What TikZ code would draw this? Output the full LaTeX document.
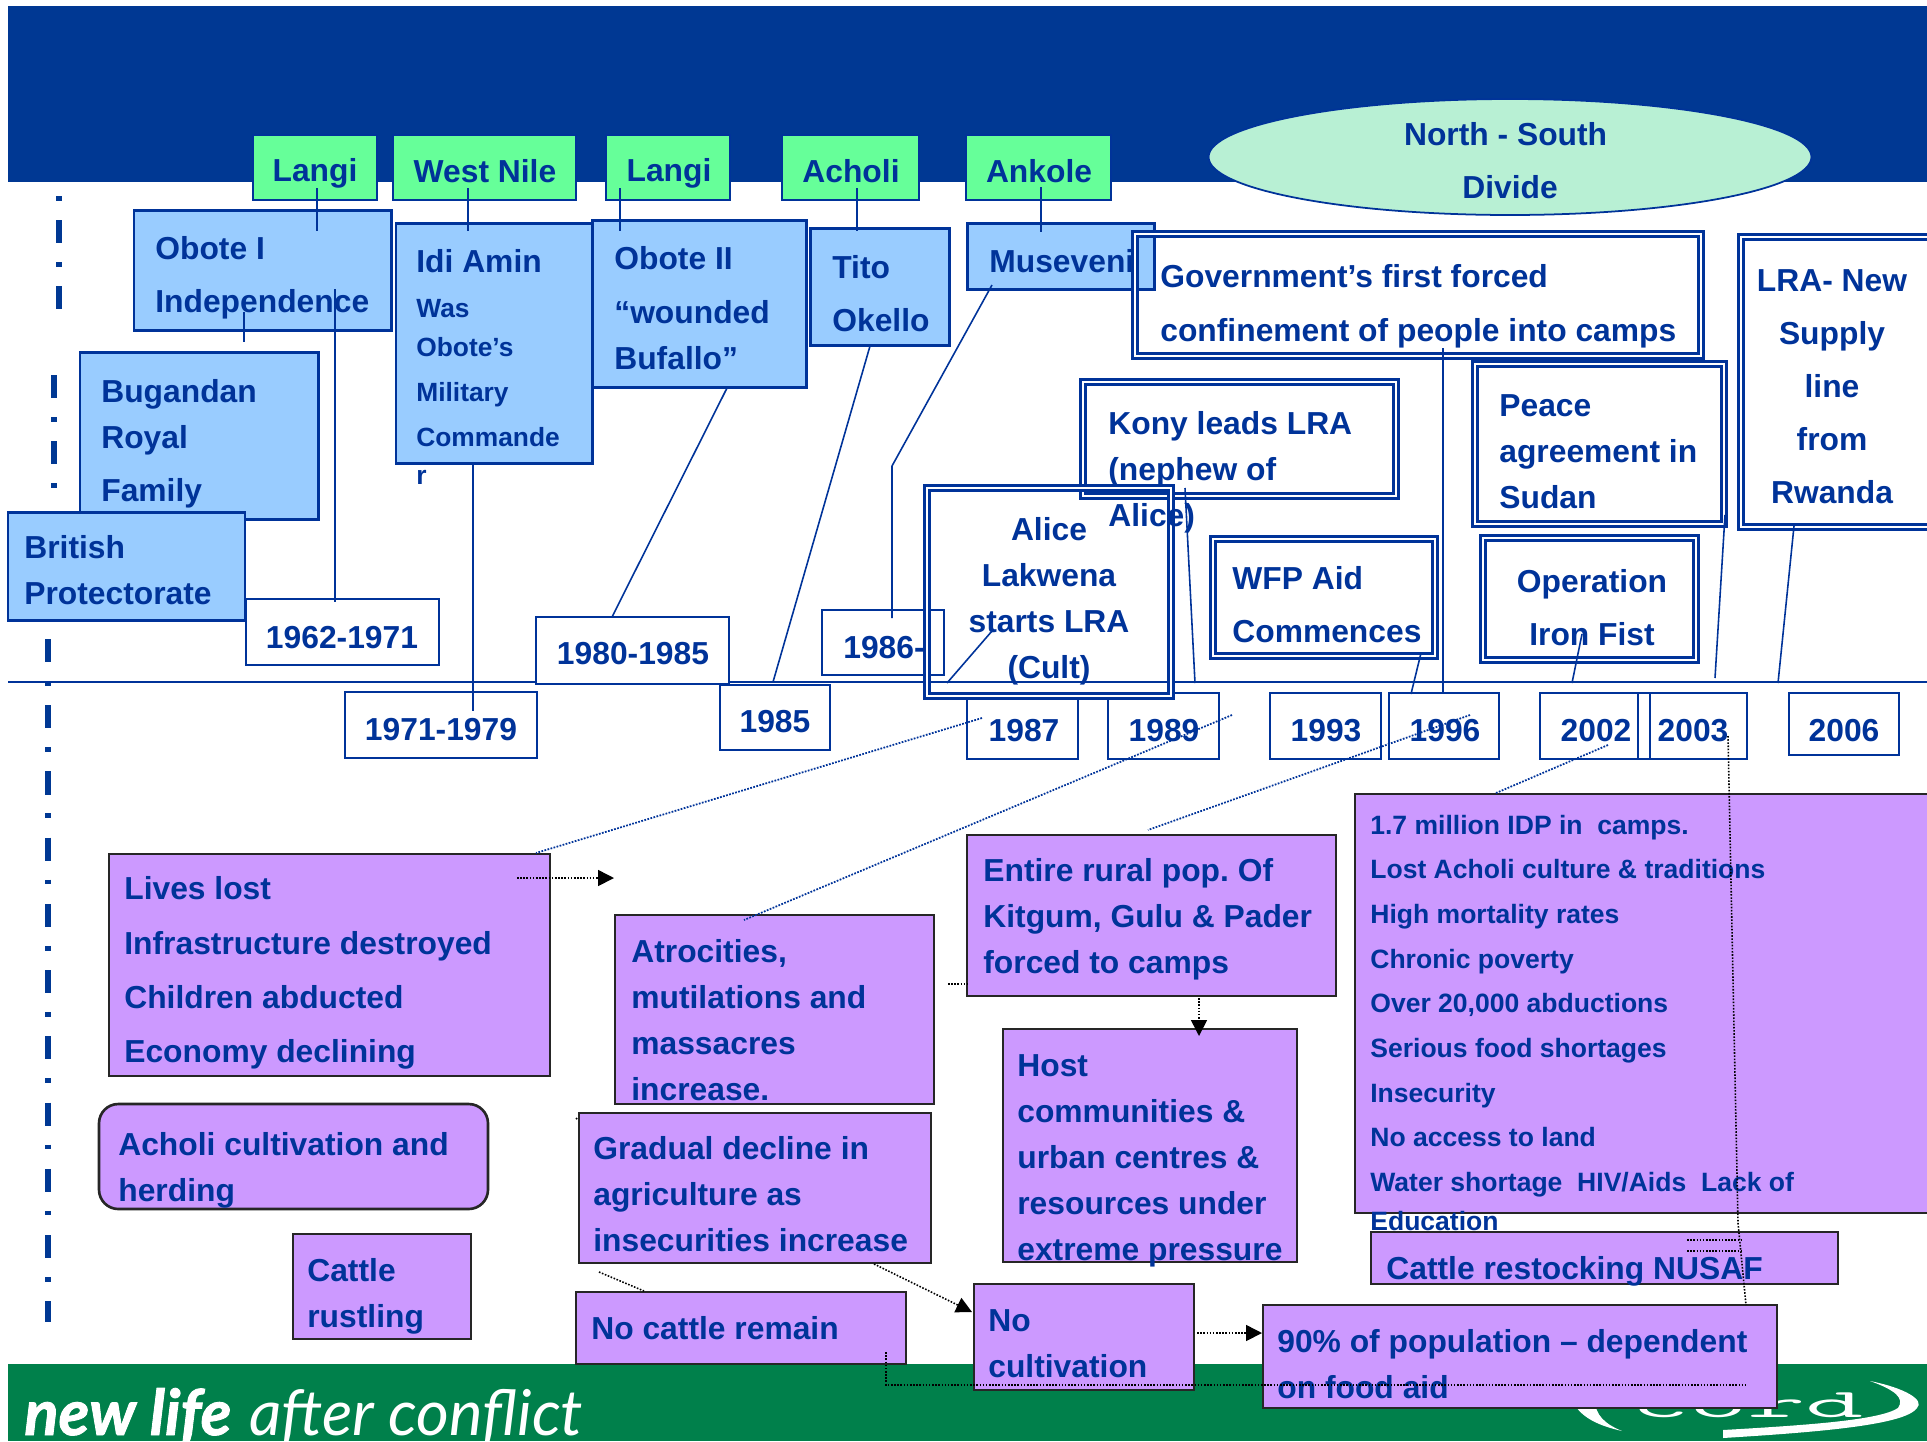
\documentclass[tikz,border=0pt]{standalone}
\usepackage{fontspec}
\setmainfont{Liberation Sans}
\newfontfamily\sloganfont{Lato}
\newfontfamily\sloganheavy{Lato}[FakeBold=1.4]
\usetikzlibrary{arrows.meta,shapes.geometric,calc}

\definecolor{navy}{RGB}{0,56,147}
\definecolor{inkblue}{RGB}{0,51,153}
\definecolor{tribe}{RGB}{102,255,153}
\definecolor{ruler}{RGB}{153,204,255}
\definecolor{harm}{RGB}{204,153,255}
\definecolor{divide}{RGB}{184,240,212}
\definecolor{footer}{RGB}{0,128,75}

\tikzset{
    tribebox/.style  = {draw=inkblue, line width=1.4pt, fill=tribe},
    rulerbox/.style  = {draw=inkblue, line width=1.7pt, fill=ruler},
    yearbox/.style   = {draw=inkblue, line width=1.1pt, fill=white},
    eventbox/.style  = {draw=inkblue, line width=1.25pt, double=white, double distance=1.6pt},
    harmbox/.style   = {draw=black!85, line width=1.5pt, fill=harm},
    lbl/.style       = {text=inkblue, inner sep=0pt, align=left, anchor=west,
                        font=\bfseries\frenchspacing\fontsize{18.1}{26.2}\selectfont},
    lblc/.style      = {lbl, align=center, anchor=center},
    lblsmall/.style  = {lbl, font=\bfseries\fontsize{15}{25.5}\selectfont},
    lbllist/.style   = {lbl, font=\bfseries\fontsize{15.1}{25.4}\selectfont},
    link/.style      = {draw=inkblue, line width=.9pt},
    trail/.style     = {draw=inkblue, line width=1pt, dash pattern=on 1pt off .8pt},
    flow/.style      = {draw=black, line width=.9pt, dash pattern=on .9pt off .9pt},
    flowto/.style    = {flow, -{Triangle[length=9pt,width=9pt,fill=black]}},
    axisdash/.style  = {draw=navy, line width=3.8pt,
                        dash pattern=on 13.1pt off 10.8pt on 2.6pt off 11.2pt},
}

% box from two corners, in pixels of the slide
\newcommand{\cornerbox}[6]{%
    \pgfmathsetmacro\boxw{(#5-#3)*0.02}
    \pgfmathsetmacro\boxh{(#6-#4)*0.02}
    \node[#1, inner sep=0pt, outer sep=0pt, anchor=north west,
          minimum width=\boxw cm, minimum height=\boxh cm] (#2) at (#3,#4) {};
}

\begin{document}
\begin{tikzpicture}[x=0.02cm, y=-0.02cm]
    \useasboundingbox (0,0) rectangle (1927,1441);
    \clip (0,0) rectangle (1927,1441);

    % slide background
    \fill[navy] (8,6) rectangle (1927,182);
    \fill[footer] (8,1364) rectangle (1927,1441);

    % footer
    \node[anchor=base west, inner sep=0pt, text=white] (slogan) at (24,1435)
        {\fontsize{36}{36}\selectfont{\sloganheavy\itshape\bfseries new life} {\sloganfont\itshape after conflict}};
    \node[anchor=base west, inner sep=0pt, text=white, xscale=2.8] (logoname) at (1630,1417)
        {\fontsize{23}{23}\selectfont\ttfamily cord};
    \fill[white] (1572,1400) .. controls (1580,1418) and (1600,1426) .. (1622,1431)
        .. controls (1605,1424) and (1595,1415) .. (1595,1400);
    \fill[white] (1870,1381) .. controls (1905,1388) and (1925,1400) .. (1917,1408)
        .. controls (1905,1425) and (1820,1432) .. (1723,1438)
        -- (1723,1430) .. controls (1810,1425) and (1880,1420) .. (1898,1408)
        .. controls (1905,1398) and (1895,1390) .. (1870,1381);

    % dashed rule on the left
    \draw[axisdash, dash phase=23.9pt] (59,196) -- (59,309);
    \draw[axisdash] (54,375) -- (54,489);
    \draw[axisdash] (48,639) -- (48,1322);

    % timeline
    \coordinate (axisL) at (8,682);
    \coordinate (axisR) at (1927,682);
    \draw[link] (axisL) -- (axisR);

    % tribes
    \cornerbox{tribebox}{langiA}{253}{135}{377}{200}
    \cornerbox{tribebox}{westnile}{393}{135}{576}{200}
    \cornerbox{tribebox}{langiB}{606}{135}{730}{200}
    \cornerbox{tribebox}{acholi}{782}{135}{919}{200}
    \cornerbox{tribebox}{ankole}{966}{135}{1111}{200}
    \node[lblc] (langiAt) at (315,173) {Langi};
    \node[lblc] (westnilet) at (485,171) {West Nile};
    \node[lblc] (langiBt) at (669,173) {Langi};
    \node[lblc] (acholit) at (851,171) {Acholi};
    \node[lblc] (ankolet) at (1039,171) {Ankole};

    % divide
    \node[ellipse, draw=inkblue, line width=1pt, fill=divide, inner sep=0pt, outer sep=0pt,
          minimum width=12.06cm, minimum height=2.32cm] (divide) at (1510,157) {};
    \node[lblc] (dividet) at (1510,161) {North - South\hspace*{5pt}\\[4pt]Divide};

    % rulers
    \cornerbox{rulerbox}{bugandan}{80}{352}{318}{519}
    \cornerbox{rulerbox}{british}{8}{512}{245}{620}
    \cornerbox{rulerbox}{oboteA}{134}{210}{391}{330}
    \cornerbox{rulerbox}{idiamin}{396}{223}{592}{463}
    \cornerbox{rulerbox}{oboteB}{592}{220}{806}{387}
    \cornerbox{rulerbox}{tito}{810}{228}{949}{345}
    \cornerbox{rulerbox}{museveni}{967}{223}{1154}{289}
    \node[lbl] (bugandant) at (101,444) {Bugandan\\Royal\\[4pt]Family};
    \node[lbl] (britisht) at (24,570) {British\\Protectorate};
    \node[lbl] (oboteAt) at (155,278) {Obote I\\[4pt]Independence};
    \node[lbl] (idiamint) at (416,261) {Idi Amin};
    \node[lblsmall] (idiaminb) at (416,392) {Was\\[-3.4pt]Obote’s\\Military\\Commande\\[-4pt]r};
    \node[lbl] (oboteBt) at (614,308) {Obote II\\[4.9pt]“wounded\\Bufallo”};
    \node[lbl] (titot) at (832,294) {Tito\\[4pt]Okello};
    \node[lbl] (musevenit) at (989,261) {Museveni};

    % years
    \cornerbox{yearbox}{yrA}{246}{599}{439}{665}
    \cornerbox{yearbox}{yrB}{345}{692}{537}{758}
    \cornerbox{yearbox}{yrC}{536}{617}{729}{684}
    \cornerbox{yearbox}{yrD}{720}{685}{830}{750}
    \cornerbox{yearbox}{yrE}{822}{610}{944}{675}
    \cornerbox{yearbox}{yrF}{967}{693}{1078}{759}
    \cornerbox{yearbox}{yrG}{1108}{693}{1219}{759}
    \cornerbox{yearbox}{yrH}{1270}{693}{1381}{759}
    \cornerbox{yearbox}{yrI}{1389}{693}{1499}{759}
    \cornerbox{yearbox}{yrK}{1638}{693}{1747}{759}
    \cornerbox{yearbox, fill=none}{yrJ}{1540}{693}{1650}{759}
    \cornerbox{yearbox}{yrL}{1789}{693}{1899}{755}
    \node[lblc] (yrAt) at (342,638) {1962-1971};
    \node[lblc] (yrBt) at (441,730) {1971-1979};
    \node[lblc] (yrCt) at (633,654) {1980-1985};
    \node[lblc] (yrDt) at (775,722) {1985};
    \node[lbl]  (yrEt) at (843,648) {1986-};
    \node[lblc] (yrFt) at (1024,731) {1987};
    \node[lblc] (yrGt) at (1164,731) {1989};
    \node[lblc] (yrHt) at (1326,731) {1993};
    \node[lblc] (yrIt) at (1445,731) {1996};
    \node[lblc] (yrJt) at (1596,731) {2002};
    \node[lblc] (yrKt) at (1693,731) {2003};
    \node[lblc] (yrLt) at (1844,731) {2006};

    % events
    \cornerbox{eventbox}{govt}{1135}{234}{1701}{356}
    \cornerbox{eventbox}{kony}{1083}{382}{1396}{496}
    \cornerbox{eventbox}{alice}{927}{488}{1171}{696}
    \cornerbox{eventbox}{wfp}{1213}{539}{1435}{656}
    \cornerbox{eventbox}{peace}{1475}{364}{1724}{524}
    \cornerbox{eventbox}{ironfist}{1483}{538}{1696}{660}
    \cornerbox{eventbox}{lra}{1741}{237}{1940}{527}
    \node[lbl] (govtt) at (1160,306) {Government’s first forced\\[4.4pt]confinement of people into camps};
    \node[lbl] (konyt) at (1108,472) {Kony leads LRA\\(nephew of\\Alice)};
    \node[lblc] (alicet) at (1049,601) {Alice\\Lakwena\\starts LRA\\(Cult)};
    \node[lbl] (wfpt) at (1232,605) {WFP Aid\\[4pt]Commences};
    \node[lbl] (peacet) at (1499,452) {Peace\\agreement in\\Sudan};
    \node[lblc] (ironfistt) at (1592,608) {Operation\\[4pt]Iron Fist};
    \node[lblc] (lrat) at (1832,387) {LRA- New\\[4pt]Supply\\[4pt]line\\[4pt]from\\[4pt]Rwanda};

    % links to the timeline
    \draw[link] (317,188) coordinate (langiAa) -- (317,231) coordinate (oboteAa);
    \draw[link] (468,188) coordinate (westa) -- (468,231) coordinate (idia);
    \draw[link] (620,188) coordinate (langiBa) -- (620,231) coordinate (oboteBa);
    \draw[link] (857,188) coordinate (acholia) -- (857,231) coordinate (titoa);
    \draw[link] (1041,187) coordinate (ankolea) -- (1041,232) coordinate (musea);
    \draw[link] (244,312) coordinate (oboteAb) -- (244,342) coordinate (bugandana);
    \draw[link] (335,289) coordinate (oboteAc) -- (335,602) coordinate (yrAa);
    \draw[link] (473,463) coordinate (idib) -- (473,711) coordinate (yrBa);
    \draw[link] (727,388) coordinate (oboteBb) -- (612,617) coordinate (yrCa);
    \draw[link] (870,346) coordinate (titob) -- (773,682) coordinate (axisA);
    \draw[link] (992,285) coordinate (museb) -- (892,466) -- (892,618) coordinate (yrEa);
    \draw[link] (992,631) coordinate (alicea) -- (947,683) coordinate (axisB);
    \draw[link] (1185,488) coordinate (konya) -- (1195,683) coordinate (axisC);
    \draw[link] (1421,653) coordinate (wfpa) -- (1411,694) coordinate (yrIa);
    \draw[link] (1443,348) coordinate (govta) -- (1443,694) coordinate (yrIb);
    \draw[link] (1582,634) coordinate (irona) -- (1572,683) coordinate (axisD);
    \draw[link] (1725,515) coordinate (peacea) -- (1715,678) coordinate (axisE);
    \draw[link] (1794,526) coordinate (lraa) -- (1778,683) coordinate (axisF);

    % effects
    \cornerbox{harmbox}{lives}{109}{854}{550}{1076}
    \cornerbox{harmbox}{atrocity}{615}{915}{934}{1104}
    \cornerbox{harmbox}{gradual}{579}{1113}{931}{1263}
    \cornerbox{harmbox, rounded corners=11pt}{herding}{99}{1104}{488}{1209}
    \cornerbox{harmbox}{rustling}{293}{1234}{471}{1339}
    \cornerbox{harmbox}{nocattle}{576}{1292}{906}{1364}
    \cornerbox{harmbox}{rural}{967}{835}{1336}{996}
    \cornerbox{harmbox}{host}{1003}{1029}{1297}{1262}
    \cornerbox{harmbox}{idp}{1355}{794}{1940}{1213}
    \cornerbox{harmbox}{restock}{1371}{1232}{1838}{1284}
    \cornerbox{harmbox}{nocult}{974}{1284}{1194}{1390}
    \cornerbox{harmbox}{foodaid}{1263}{1305}{1777}{1408}
    \node[lbl] (livest) at (124,973) {Lives lost\\[4.7pt]Infrastructure destroyed\\[4.7pt]Children abducted\\[4.7pt]Economy declining};
    \node[lbl] (atrocityt) at (631,1020) {Atrocities,\\mutilations and\\massacres\\increase.};
    \node[lbl] (gradualt) at (593,1194) {Gradual decline in\\agriculture as\\insecurities increase};
    \node[lbl] (herdingt) at (118,1170) {Acholi cultivation and\\herding};
    \node[lbl] (rustlingt) at (307,1296) {Cattle\\rustling};
    \node[lbl] (nocattlet) at (591,1328) {No cattle remain};
    \node[lbl] (ruralt) at (983,919) {Entire rural pop. Of\\Kitgum, Gulu \& Pader\\forced to camps};
    \node[lbl] (hostt) at (1017,1161) {Host\\communities \&\\urban centres \&\\resources under\\extreme pressure};
    \node[lbllist] (idpt) at (1370,1023) {1.7 million IDP in\ \ camps.\\Lost Acholi culture \& traditions\\High mortality rates\\Chronic poverty\\Over 20,000 abductions\\Serious food shortages\\Insecurity\\No access to land\\Water shortage\ \ HIV/Aids\ \ Lack of\\[-3pt]Education};
    \node[lbl] (restockt) at (1386,1271) {Cattle restocking NUSAF};
    \node[lbl] (nocultt) at (988,1344) {No\\cultivation};
    \node[lbl] (foodaidt) at (1277,1364) {90\% of population – dependent\\on food aid};

    % dotted trails from the years
    \draw[trail] (982,718) coordinate (yrFb) -- (536,853) coordinate (livesa);
    \draw[trail] (1232,715) coordinate (yrGb) -- (744,920) coordinate (atrocitya);
    \draw[trail] (1470,715) coordinate (yrIc) -- (1148,830) coordinate (rurala);
    \draw[trail] (1608,745) coordinate (yrJb) -- (1496,793) coordinate (idpa);

    % dotted flows between effects
    \draw[flowto] (517,878) coordinate (livesb) -- (614,878) coordinate (livesc);
    \draw[flow] (948,984) coordinate (atrocityb) -- (967,984) coordinate (rurals);
    \draw[flowto] (1199,998) coordinate (ruralb) -- (1199,1036) coordinate (hosta);
    \draw[flowto] (874,1264) coordinate (gradualb) -- (972,1312) coordinate (nocultb);
    \draw[flow] (599,1272) coordinate (gradualc) -- (644,1291) coordinate (nocattleb);
    \draw[flow] (576,1118) coordinate (gradualm) -- (578,1120) coordinate (gradualn);
    \draw[flowto] (1197,1333) coordinate (nocultc) -- (1262,1333) coordinate (foodaidb);
    \draw[flow] (886,1352) coordinate (nocattlec) -- (886,1385) -- (1747,1385) coordinate (foodaidc);
    \draw[flow] (1728,736) coordinate (yrKb) -- (1738,1223) -- (1746,1305) coordinate (foodaidd);
    \draw[flow] (1687,1240) coordinate (restockb) -- (1741,1240) coordinate (restockc);
    \draw[flow] (1687,1251) coordinate (restockd) -- (1741,1251) coordinate (restocke);

\end{tikzpicture}
\end{document}
